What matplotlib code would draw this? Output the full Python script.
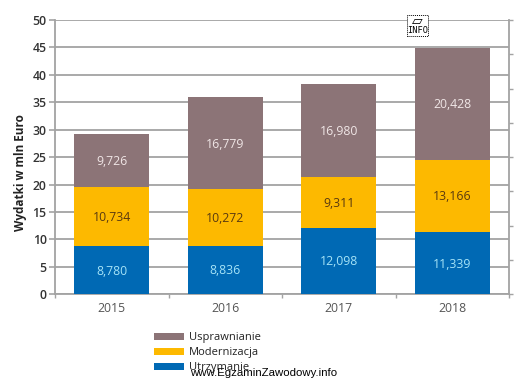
import matplotlib
matplotlib.use("Agg")
import matplotlib.pyplot as plt
from matplotlib.patches import Rectangle

years = ["2015", "2016", "2017", "2018"]
utrzymanie = [8.780, 8.836, 12.098, 11.339]
modernizacja = [10.734, 10.272, 9.311, 13.166]
usprawnianie = [9.726, 16.779, 16.980, 20.428]
y_ticks = [0, 5, 10, 15, 20, 25, 30, 35, 40, 45, 50]

W, H = 529, 382
plt.rcParams["font.family"] = ["Open Sans", "DejaVu Sans"]

fig = plt.figure(figsize=(W / 100, H / 100), dpi=100)
ax = fig.add_axes([55 / W, 1 - 294.3 / H, 454 / W, 274.3 / H])

x = list(range(len(years)))
grey = "#a3a3a3"
series = [
    ("Utrzymanie", utrzymanie, "#0069b4", "#a5e3f7"),
    ("Modernizacja", modernizacja, "#fdb900", "#5a3a10"),
    ("Usprawnianie", usprawnianie, "#8c7477", "#f0e6e6"),
]

bottom = [0, 0, 0, 0]
handles = {}
for name, values, color, text_color in series:
    bars = ax.bar(x, values, 0.66, bottom=bottom, color=color, zorder=3, label=name)
    handles[name] = bars
    for i, v in enumerate(values):
        ax.text(i, bottom[i] + v / 2 - 0.15, f"{v:.3f}".replace(".", ","),
                ha="center", va="center", fontsize=8.8, color=text_color, zorder=4)
    bottom = [b + v for b, v in zip(bottom, values)]

ax.set_xlim(-0.5, 3.5)
ax.set_ylim(0, 50)
ax.set_yticks(y_ticks)
ax.set_xticks(x)
ax.set_xticklabels(years, fontsize=8.8, color="#555555")
ax.set_xticks([-0.5, 0.5, 1.5, 2.5, 3.5], minor=True)
ax.tick_params(axis="x", which="major", length=0, pad=5.5)
ax.tick_params(axis="x", which="minor", length=3, width=1, color=grey, direction="out")
ax.tick_params(axis="y", length=4, width=1.2, color=grey, labelsize=8.8,
               labelcolor="#333333", pad=2)
for lab in ax.get_yticklabels():
    lab.set_fontweight("semibold")
ax.set_ylabel("Wydatki w mln Euro", fontsize=8.5, fontweight="bold", color="#222222")
ax.yaxis.set_label_coords(-0.062, 0.442)
ax.yaxis.grid(True, color=grey, linewidth=1.3, zorder=0)
ax.set_axisbelow(True)
for side in ["top", "left", "bottom", "right"]:
    ax.spines[side].set_color(grey)
    ax.spines[side].set_linewidth(1.3)
ax.spines["top"].set_visible(False)

# right hand axis with its own ticks, no labels
right = ax.twinx()
right.set_ylim(0, 8)
right.set_yticks(range(9))
right.set_yticklabels([])
right.tick_params(axis="y", length=3, width=1, color=grey)
for side in ["top", "left", "bottom", "right"]:
    right.spines[side].set_visible(False)

order = ["Usprawnianie", "Modernizacja", "Utrzymanie"]
fig.legend([handles[n] for n in order], order, loc="upper left",
           bbox_to_anchor=(146 / W, 1 - 324.5 / H), frameon=False, fontsize=8,
           handlelength=2.75, handleheight=0.7, handletextpad=0.4, labelspacing=0.36,
           labelcolor="#222222", borderpad=0.2)

# watermark and placeholder icon
fig.text(190 / W, 1 - 373 / H, "www.EgzaminZawodowy.info", family="Liberation Sans",
         fontsize=8.2, color="black", va="center", ha="left", zorder=10)
fig.add_artist(Rectangle((407 / W, 1 - 36 / H), 21 / W, 21 / H, transform=fig.transFigure,
                         facecolor="white", edgecolor="black", linestyle=(0, (1, 1)),
                         linewidth=0.7, zorder=9))
fig.text(417.5 / W, 1 - 30.5 / H, "INFO", family="DejaVu Sans Mono", fontsize=6.2, ha="center",
         va="center", color="black", zorder=10)
fig.text(417.5 / W, 1 - 20.5 / H, "▱", family="DejaVu Sans", fontsize=10, ha="center",
         va="center", color="black", zorder=10)

fig.savefig("out.png", dpi=100)
